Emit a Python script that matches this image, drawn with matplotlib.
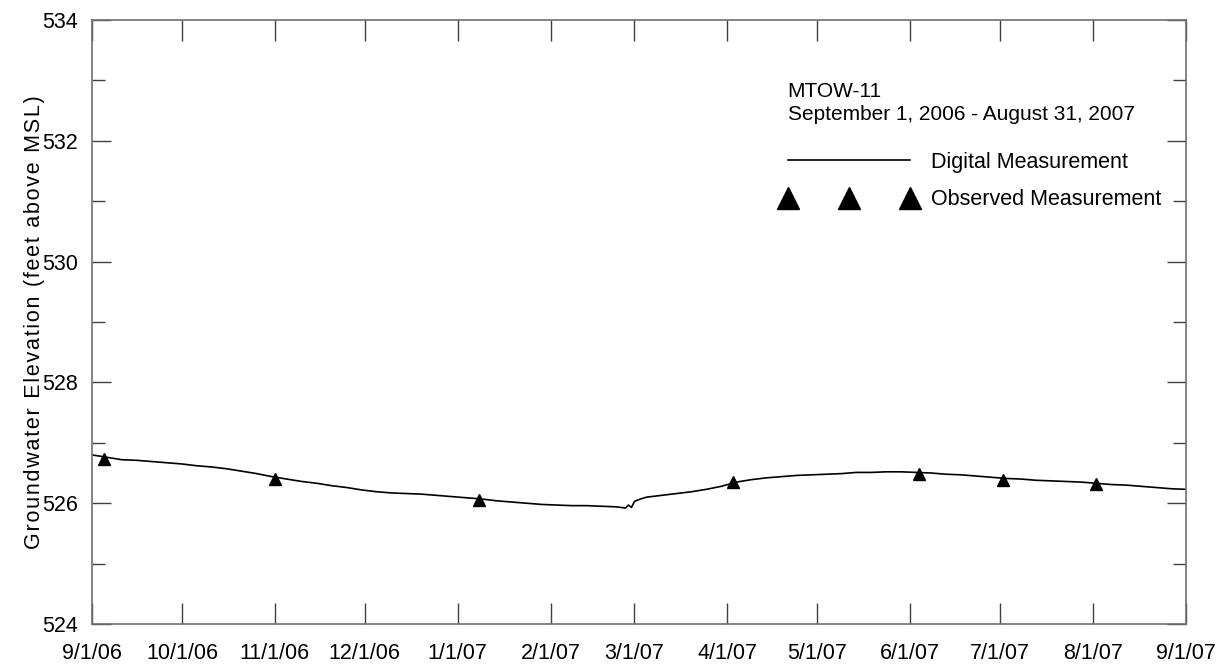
import matplotlib
matplotlib.use('Agg')
import matplotlib.pyplot as plt
import matplotlib.dates as mdates
from matplotlib.legend_handler import HandlerLine2D
from matplotlib.ticker import MultipleLocator
import numpy as np
import pandas as pd

plt.rcParams['font.family'] = ['Liberation Sans', 'DejaVu Sans']

digital_days = [0, 5, 10, 15, 20, 25, 30, 35, 40, 45, 50, 55, 60, 65, 70, 75,
                80, 85, 90, 95, 100, 105, 110, 115, 120, 125, 130, 135, 140,
                145, 150, 155, 160, 165, 170, 175, 178, 179, 180, 181, 183,
                185, 190, 195, 200, 205, 210, 215, 220, 225, 230, 235, 240,
                245, 250, 255, 260, 265, 270, 275, 280, 285, 290, 295, 300,
                305, 310, 315, 320, 325, 330, 335, 340, 345, 350, 355, 360, 365]
digital_elev = [526.80, 526.76, 526.72, 526.71, 526.69, 526.67, 526.65, 526.62,
                526.60, 526.57, 526.53, 526.49, 526.44, 526.40, 526.36, 526.33,
                526.29, 526.26, 526.22, 526.19, 526.17, 526.16, 526.15, 526.13,
                526.11, 526.09, 526.07, 526.04, 526.02, 526.00, 525.98, 525.97,
                525.96, 525.96, 525.95, 525.94, 525.92, 525.97, 525.93, 526.03,
                526.07, 526.10, 526.13, 526.16, 526.19, 526.23, 526.28, 526.35,
                526.39, 526.42, 526.44, 526.46, 526.47, 526.48, 526.49, 526.51,
                526.51, 526.52, 526.52, 526.51, 526.50, 526.48, 526.47, 526.45,
                526.43, 526.41, 526.40, 526.38, 526.37, 526.36, 526.35, 526.33,
                526.31, 526.30, 526.28, 526.26, 526.24, 526.23]

obs_dates = ['2006-09-05', '2006-11-01', '2007-01-08', '2007-04-03',
             '2007-06-04', '2007-07-02', '2007-08-02']
obs_elev = [526.74, 526.40, 526.06, 526.35, 526.49, 526.38, 526.32]

start = pd.Timestamp('2006-09-01')
dig_x = start + pd.to_timedelta(digital_days, unit='D')
obs_x = pd.to_datetime(obs_dates)

fig = plt.figure(figsize=(12.23, 6.71), dpi=100)
ax = fig.add_axes([0.0752, 0.0700, 0.8945, 0.9002])

line, = ax.plot(dig_x, digital_elev, color='black', lw=1.2, label='Digital Measurement')
ax.plot(obs_x, obs_elev, ls='none', marker='^', ms=8.5, color='black', clip_on=False)

ax.set_xlim(pd.Timestamp('2006-09-01'), pd.Timestamp('2007-09-01'))
ax.set_ylim(524, 534)
ax.xaxis.set_major_locator(mdates.MonthLocator())
ax.xaxis.set_major_formatter(mdates.DateFormatter('%-m/%-d/%y'))
ax.yaxis.set_major_locator(MultipleLocator(2))
ax.yaxis.set_minor_locator(MultipleLocator(1))

for s in ax.spines.values():
    s.set_color('#707070')
    s.set_linewidth(1.2)
ax.tick_params(axis='both', which='both', direction='in', top=True, right=True,
               color='#404040', labelsize=15.5)
ax.tick_params(axis='x', which='major', length=15, width=1, pad=14)
ax.tick_params(axis='y', which='major', length=13.7, width=1, pad=10)
ax.tick_params(axis='y', which='minor', length=9.4, width=1)

ylab = '\u200a'.join('Groundwater Elevation (feet above MSL)')
ax.set_ylabel(ylab, fontsize=15.5, labelpad=-2)

ax.text(0.636, 0.8816, 'MTOW-11', transform=ax.transAxes, fontsize=15, va='center', ha='left')
ax.text(0.636, 0.843, 'September 1, 2006 - August 31, 2007', transform=ax.transAxes,
        fontsize=15, va='center', ha='left')

tri = plt.Line2D([], [], ls='none', marker='^', ms=16.5, color='black', label='Observed Measurement')
ax.legend(handles=[line, tri], loc='upper left', bbox_to_anchor=(0.636, 0.782),
          frameon=False, fontsize=15.5, handlelength=5.67, handletextpad=0.98,
          labelspacing=0.77, borderpad=0, borderaxespad=0,
          handler_map={tri: HandlerLine2D(numpoints=3, marker_pad=0)})

plt.savefig('out.png', dpi=100)
